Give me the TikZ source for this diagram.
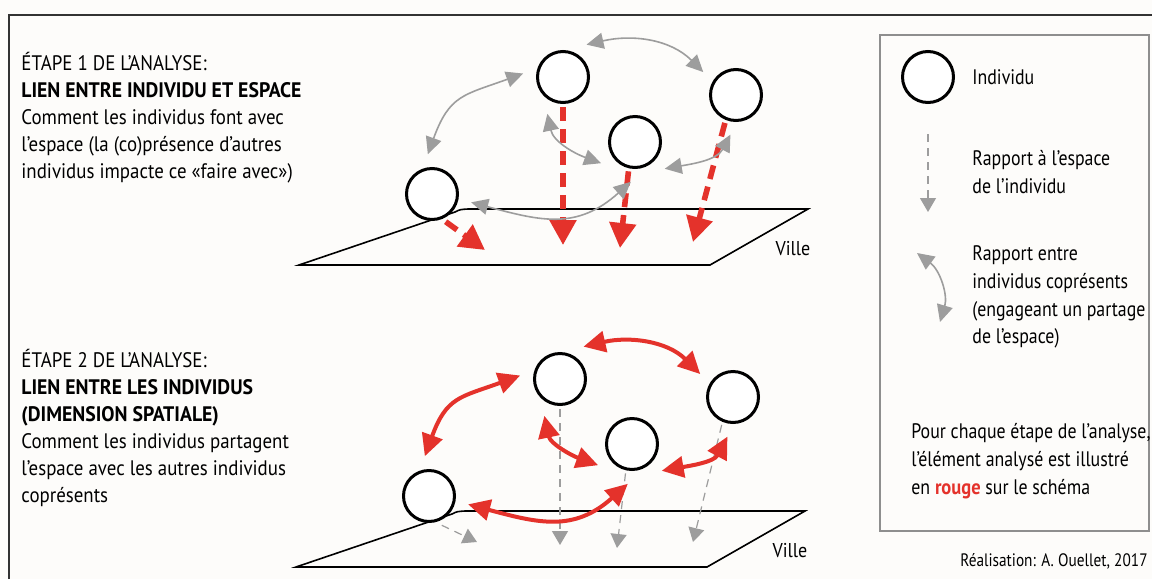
\documentclass[tikz,border=0pt]{standalone}
\usepackage{fontspec}
\setmainfont{PT Sans}[UprightFeatures={FakeStretch=0.9}, BoldFeatures={FakeStretch=0.94}]
\newfontfamily\legendefont{PT Sans}[UprightFeatures={FakeStretch=0.85}, BoldFeatures={FakeStretch=0.88}]
\usetikzlibrary{arrows.meta}
\usetikzlibrary{positioning}

\definecolor{fond}{HTML}{FDFCFA}
\definecolor{rougeA}{HTML}{E4322B}
\definecolor{grisA}{HTML}{9D9D9D}
\definecolor{cadre}{HTML}{8E8E8E}

\tikzset{
  individu/.style={circle, draw=black, fill=white, line width=1.5pt, minimum size=25.5pt, inner sep=0pt, outer sep=7.25pt},
  lien/.style={draw=grisA, line width=0.8pt, {Triangle[length=8.5pt,width=8pt]}-{Triangle[length=8.5pt,width=8pt]}},
  lienfort/.style={draw=rougeA, line width=2pt, {Triangle[length=11pt,width=10.5pt]}-{Triangle[length=11pt,width=10.5pt]}},
  rapport/.style={draw=grisA, line width=0.6pt, dash pattern=on 4pt off 3pt, shorten <=-5pt, -{Triangle[length=7pt,width=8pt]}},
  rapportfort/.style={draw=rougeA, line width=2.8pt, dash pattern=on 7pt off 4pt, shorten <=-5pt, -{Triangle[length=12.5pt,width=13pt]}},
  ville/.style={draw=black, line width=0.8pt},
  texte/.style={align=left, inner sep=0pt, font=\fontsize{10.5}{13.5}\selectfont},
  legende/.style={align=left, inner sep=0pt, font=\legendefont\fontsize{10.5}{13.9}\selectfont},
}

\begin{document}
\begin{tikzpicture}[x=0.5pt, y=-0.5pt]
\useasboundingbox (0,0) rectangle (1152,579);
\fill[fond] (0,0) rectangle (1152,579);
\draw[line width=1pt, black!80] (9,579) -- (9,15) -- (1152,15);

\node[texte, anchor=west] (etapeA) at (21,118) {ÉTAPE 1 DE L’ANALYSE:\\ \textbf{LIEN ENTRE INDIVIDU ET ESPACE}\\ Comment les individus font avec\\ l’espace (la (co)présence d’autres\\ individus impacte ce «faire avec»)};
\node[texte, anchor=west] (etapeB) at (21,428) {ÉTAPE 2 DE L’ANALYSE:\\ \textbf{LIEN ENTRE LES INDIVIDUS}\\ \textbf{(DIMENSION SPATIALE)}\\ Comment les individus partagent\\ l’espace avec les autres individus\\ coprésents};

\draw[ville] (299,265) -- (455,212) .. controls (460,209.5) .. (468,209) -- (808,209) -- (710,265) -- cycle;
\node[texte, font=\fontsize{10}{11}\selectfont] (villeA) at (793,249) {Ville};

\node[individu] (a1) at (432,194) {};
\node[individu] (a2) at (563,77) {};
\node[individu] (a3) at (736,95) {};
\node[individu] (a4) at (635,142) {};

\coordinate (pA1) at (485,250);
\coordinate (pA2) at (563,245);
\coordinate (pA4) at (620,248);
\coordinate (pA3) at (693,242);

\draw[rapportfort] (a1.-57) -- (pA1);
\draw[rapportfort] (a2.-90) -- (pA2);
\draw[rapportfort] (a4.-101) -- (pA4);
\draw[rapportfort] (a3.-110) -- (pA3);

\draw[lien] (a2.54) to[out=13,in=135] (a3.145);
\draw[lien] (a2.175) to[out=200,in=70,looseness=1.3] (a1.96);
\draw[lien] (a2.247) to[out=-78,in=160] (a4.212);
\draw[lien] (a1.-12) to[out=-15,in=222,looseness=1.15] (a4.264);
\draw[lien] (a4.-42) to[out=10,in=242] (a3.262);

\begin{scope}[shift={(-3,302)}]
\draw[ville] (299,265) -- (455,212) .. controls (460,209.5) .. (468,209) -- (808,209) -- (710,265) -- cycle;
\node[texte, font=\fontsize{10}{11}\selectfont] (villeB) at (793,249) {Ville};

\node[individu] (b1) at (432,194) {};
\node[individu] (b2) at (563,77) {};
\node[individu] (b3) at (736,95) {};
\node[individu] (b4) at (635,142) {};

\coordinate (pB1) at (480,240);
\coordinate (pB2) at (563,243);
\coordinate (pB4) at (620,246);
\coordinate (pB3) at (696,240);

\draw[rapport] (b1.-57) -- (pB1);
\draw[rapport] (b2.-90) -- (pB2);
\draw[rapport] (b4.-101) -- (pB4);
\draw[rapport] (b3.-110) -- (pB3);

\draw[lienfort] (b2.54) to[out=13,in=135] (b3.145);
\draw[lienfort] (b2.175) to[out=200,in=70,looseness=1.3] (b1.96);
\draw[lienfort] (b2.247) to[out=-78,in=160] (b4.212);
\draw[lienfort] (b1.-12) to[out=-15,in=222,looseness=1.15] (b4.264);
\draw[lienfort] (b4.-42) to[out=10,in=242] (b3.262);
\end{scope}

\draw[cadre, line width=0.8pt] (880,35) rectangle (1149,531);
\node[individu] (lgInd) at (928,77) {};
\node[legende, anchor=west] (lgIndTxt) at (972,77) {Individu};

\coordinate (lgC) at (928,144);
\coordinate (lgD) at (928,212);
\draw[rapport] (lgC) -- (lgD);
\node[legende, anchor=west] (lgRapTxt) at (972,172) {Rapport à l’espace\\ de l’individu};

\coordinate (lgA) at (917,253);
\coordinate (lgB) at (940,322);
\draw[lien] (lgA) to[bend left=35] (lgB);
\node[legende, anchor=west] (lgLienTxt) at (972,297) {Rapport entre\\ individus coprésents\\ (engageant un partage\\ de l’espace)};

\node[legende, anchor=west] (lgNote) at (911,461) {Pour chaque étape de l’analyse,\\ l’élément analysé est illustré\\ en \textcolor{rougeA}{\textbf{rouge}} sur le schéma};

\node[legende, anchor=east, font=\legendefont\fontsize{9}{10}\selectfont] (credit) at (1148,561) {Réalisation: A. Ouellet, 2017};
\end{tikzpicture}
\end{document}
